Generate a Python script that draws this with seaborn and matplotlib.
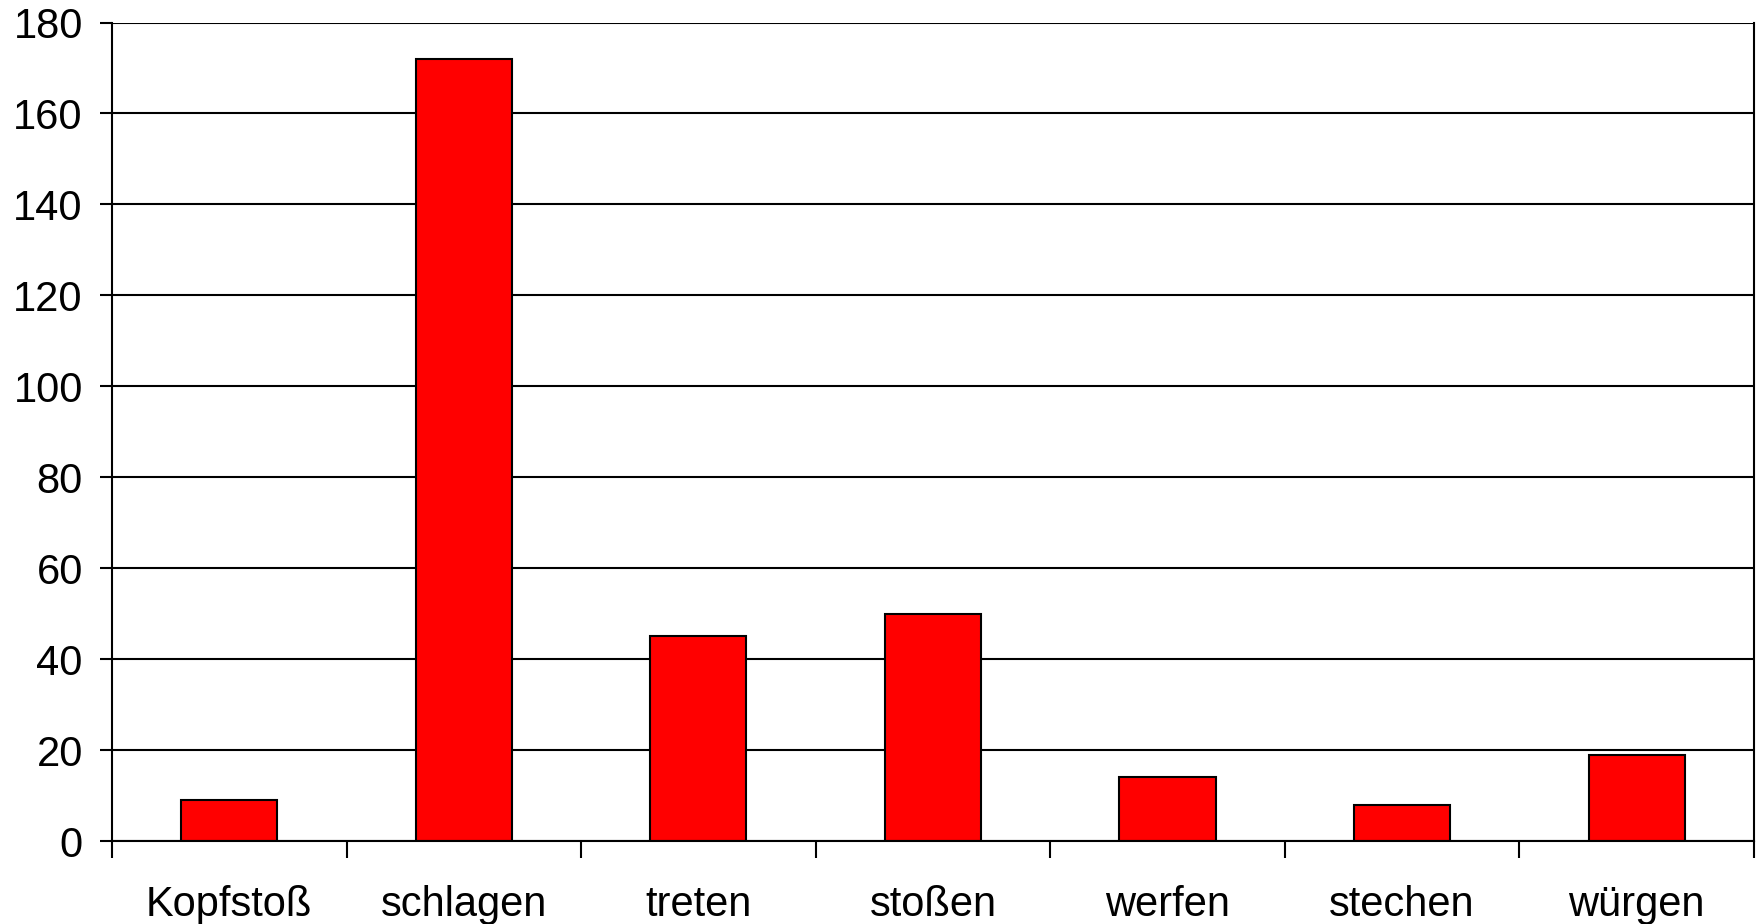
import matplotlib
matplotlib.use("Agg")
import numpy as np
import pandas as pd
import seaborn as sns
import matplotlib.pyplot as plt

# Data
categories = ["Kopfstoß", "schlagen", "treten", "stoßen", "werfen", "stechen", "würgen"]
counts = [9, 172, 45, 50, 14, 8, 19]
y_ticks = [0, 20, 40, 60, 80, 100, 120, 140, 160, 180]

df = pd.DataFrame({"Kategorie": categories, "Anzahl": counts})

sns.set_style("white")
plt.rcParams['font.family'] = ['Liberation Sans', 'DejaVu Sans']

fig = plt.figure(figsize=(17.63, 9.24), dpi=100)
ax = fig.add_axes([0.0635, 0.0898, 0.9314, 0.8858])

# Horizontal grid lines behind the bars
ax.set_axisbelow(True)
ax.yaxis.grid(True, color="black", linewidth=1.5)

sns.barplot(data=df, x="Kategorie", y="Anzahl", color="#ff0000", saturation=1,
            edgecolor="black", linewidth=1.5, width=0.41, ax=ax)

ax.set_ylim(0, 180)
ax.set_xlim(-0.5, len(categories) - 0.5)
ax.set_yticks(y_ticks)
ax.set_xlabel("")
ax.set_ylabel("")

# Category separator ticks on the x axis
ax.set_xticks(np.arange(-0.5, len(categories)), minor=True)
ax.tick_params(axis="x", which="major", bottom=False, pad=28, labelsize=30, labelcolor="black")
ax.tick_params(axis="x", which="minor", bottom=True, length=12, width=1.5, color="black", direction="out")
ax.tick_params(axis="y", left=True, length=9, width=1.5, color="black", direction="out",
               pad=12, labelsize=30, labelcolor="black")

for side in ["left", "bottom", "right"]:
    ax.spines[side].set_visible(True)
    ax.spines[side].set_color("black")
    ax.spines[side].set_linewidth(1.5)
ax.spines["top"].set_visible(False)

fig.savefig("out.png", dpi=100, facecolor="white")
